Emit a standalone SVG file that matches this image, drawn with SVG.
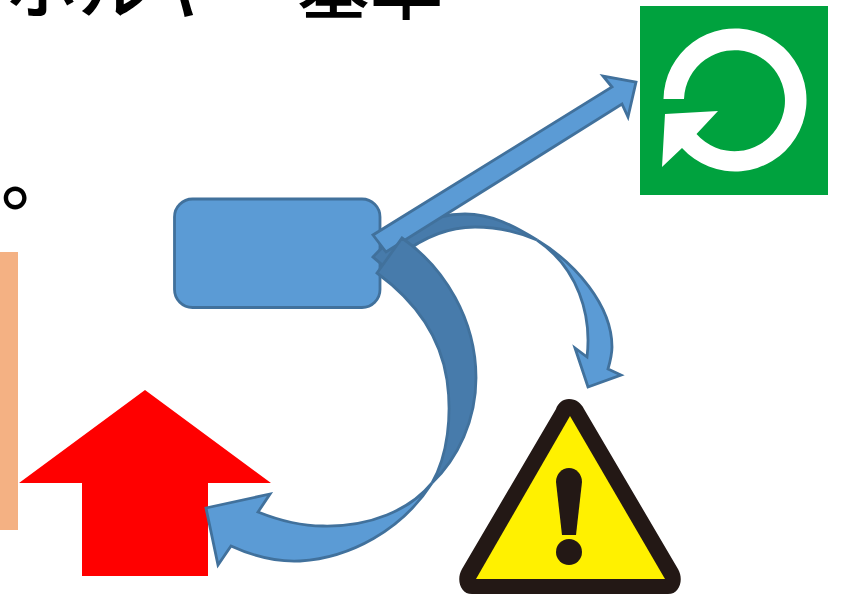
<svg xmlns="http://www.w3.org/2000/svg" width="843" height="594" viewBox="0 0 843 594">
<style>
.t{font-family:"Noto Sans CJK JP","Noto Sans CJK SC",sans-serif;font-size:73px;font-weight:500;fill:#000}
.b{fill:#5b9bd5;stroke:#41719c;stroke-width:2.800;stroke-linejoin:miter}
.d{fill:#477bab;stroke:#41719c;stroke-width:2.800}
</style>
<rect width="843" height="594" fill="#fff"/>
<g id="title"><text class="t" x="5" y="13">ホルヤー基準</text><text class="t" x="1" y="204">。</text></g>
<g id="orange-bar"><rect x="0" y="252" width="18" height="278" fill="#f4b183"/></g>
<g id="red-arrow"><polygon points="145,390 271,483 208,483 208,576 82,576 82,483 19,483" fill="#f00"/></g>
<g id="rounded-box"><rect class="b" x="174.500" y="199" width="205.500" height="108.500" rx="18" ry="18"/></g>
<g id="green-icon"><rect x="640" y="6" width="188" height="189" fill="#00a23e"/>
<path d="M663.500,99 A71.500,71.500 0 1 1 682,148 L662,167 L665,114 L718,111 L696.500,134 A50.500,50.500 0 1 0 684,99 Z" fill="#fff"/></g>
<g id="warning-icon">
<path d="M569,399 C576,399 581,403 584,409 L678,569 C684,579 680,594 668,594 L472,594 C460,594 456,579 462,569 L556,409 C558,403 563,399 569,399 Z" fill="#231815"/>
<polygon points="570,416 665,579 476,579" fill="#fff100"/>
<path d="M569,468 C576,468 582,474 582,482 L576,535 L562,535 L556,482 C556,474 562,468 569,468 Z" fill="#231815"/>
<circle cx="569" cy="552" r="13" fill="#231815"/></g>
<g id="connectors">
<path class="d" d="M373,257 C395,232 430,214 465,214 C492,214 514,226 537,240 C518,232 495,227 475,227 C445,227 415,240 386,268 Z"/>
<path class="b" d="M537,240 C575,263 612,305 612,347 C612,355 610,362 608,369 L621,375 L588,387 L575,348 L587,357 C592,315 578,268 537,240 Z"/>
<polygon class="b" points="373,235 386,252 622,104 628,117 636,82 603,76 612,87"/>
<path class="b" d="M432,483 C410,510 370,527 323,526 C300,526 278,520 258,512 L270,494 L206,508 L218,565 L231,546 C255,557 280,562 300,561 C350,558 402,530 432,483 Z"/>
<path class="d" d="M377,273 L402,238 C445,268 476,320 476,378 C476,420 458,458 432,483 C448,455 452,415 447,380 C441,340 418,303 377,273 Z"/>
</g>
</svg>
